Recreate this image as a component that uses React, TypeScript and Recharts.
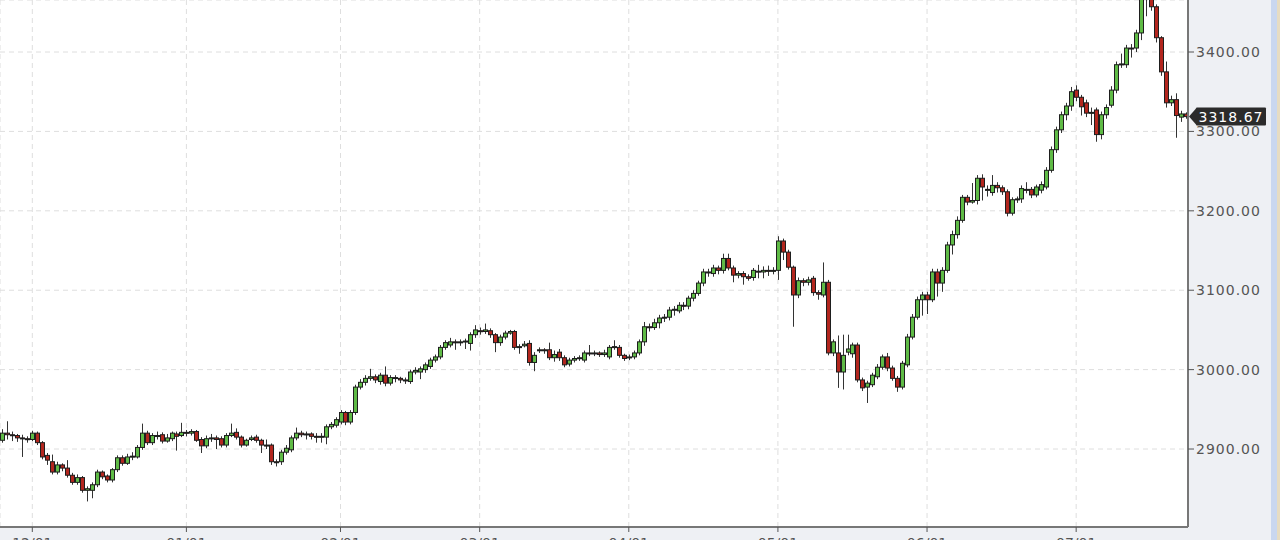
import React from 'react';
import { ComposedChart, Bar, XAxis, YAxis, CartesianGrid, ReferenceLine } from 'recharts';

// daily candles
const opens = [
  2911, 2920, 2918, 2917, 2914, 2913, 2912, 2920, 2908, 2892, 2884, 2871, 2880, 2876, 2867, 2858, 2864, 2848, 2848, 2855,
  2871, 2866, 2861, 2874, 2889, 2882, 2890, 2890, 2902, 2920, 2908, 2917, 2918, 2910, 2913, 2919, 2917, 2921, 2920, 2922,
  2912, 2904, 2913, 2914, 2913, 2905, 2917, 2921, 2915, 2905, 2912, 2915, 2911, 2905, 2905, 2884, 2884, 2896, 2899, 2914,
  2920, 2918, 2919, 2916, 2915, 2915, 2928, 2930, 2934, 2946, 2934, 2946, 2978, 2984, 2989, 2991, 2985, 2993, 2983, 2990,
  2989, 2987, 2985, 2997, 2997, 3000, 3004, 3012, 3016, 3028, 3031, 3035, 3034, 3035, 3033, 3044, 3049, 3048, 3049, 3044,
  3034, 3041, 3046, 3048, 3028, 3030, 3033, 3009, 3024, 3025, 3025, 3015, 3022, 3015, 3007, 3012, 3014, 3012, 3021, 3020,
  3021, 3019, 3016, 3028, 3028, 3018, 3015, 3016, 3021, 3035, 3054, 3053, 3059, 3065, 3066, 3075, 3074, 3081, 3080, 3090,
  3096, 3109, 3123, 3121, 3128, 3125, 3140, 3128, 3119, 3121, 3117, 3116, 3124, 3123, 3125, 3124, 3125, 3162, 3148, 3129,
  3094, 3112, 3110, 3115, 3097, 3094, 3110, 3021, 3021, 2997, 3022, 3020, 3031, 2987, 2978, 2981, 2991, 3003, 3016, 3002,
  2989, 2978, 3006, 3041, 3066, 3088, 3094, 3088, 3123, 3109, 3125, 3157, 3170, 3188, 3217, 3211, 3213, 3241, 3226, 3223,
  3232, 3229, 3224, 3197, 3214, 3215, 3227, 3227, 3220, 3226, 3230, 3251, 3277, 3302, 3321, 3332, 3352, 3343, 3336, 3323,
  3327, 3296, 3321, 3333, 3352, 3384, 3384, 3405, 3405, 3424, 3468, 3470, 3457, 3418, 3375, 3336, 3340, 3318, 3322,
];
const highs = [
  2925, 2935, 2922, 2919, 2918, 2916, 2923, 2922, 2910, 2895, 2893, 2884, 2882, 2886, 2870, 2868, 2866, 2853, 2858, 2874,
  2873, 2868, 2876, 2892, 2892, 2894, 2896, 2905, 2932, 2923, 2920, 2922, 2921, 2919, 2922, 2922, 2933, 2924, 2925, 2924,
  2915, 2917, 2919, 2917, 2916, 2920, 2932, 2926, 2917, 2913, 2917, 2918, 2913, 2912, 2907, 2887, 2899, 2905, 2917, 2927,
  2923, 2922, 2921, 2920, 2920, 2931, 2934, 2940, 2949, 2948, 2949, 2981, 2988, 2993, 3001, 2994, 2996, 3004, 2993, 2993,
  2991, 2990, 3000, 3003, 3004, 3009, 3015, 3019, 3031, 3037, 3040, 3038, 3038, 3039, 3047, 3056, 3053, 3058, 3052, 3046,
  3044, 3049, 3050, 3050, 3032, 3036, 3037, 3022, 3028, 3027, 3034, 3024, 3026, 3018, 3015, 3017, 3018, 3024, 3031, 3024,
  3023, 3025, 3031, 3037, 3031, 3020, 3019, 3024, 3038, 3060, 3058, 3064, 3069, 3070, 3079, 3080, 3085, 3085, 3093, 3100,
  3112, 3127, 3127, 3132, 3131, 3146, 3146, 3131, 3124, 3124, 3120, 3128, 3132, 3130, 3131, 3129, 3168, 3165, 3151, 3131,
  3116, 3115, 3117, 3118, 3100, 3135, 3113, 3038, 3043, 3044, 3044, 3034, 3034, 2990, 2986, 2996, 3007, 3019, 3021, 3005,
  2992, 3011, 3045, 3070, 3092, 3098, 3098, 3127, 3127, 3129, 3161, 3175, 3193, 3220, 3220, 3235, 3245, 3246, 3232, 3245,
  3236, 3232, 3227, 3217, 3218, 3232, 3236, 3230, 3233, 3237, 3255, 3281, 3306, 3325, 3336, 3356, 3358, 3346, 3340, 3330,
  3330, 3325, 3334, 3357, 3388, 3398, 3409, 3410, 3428, 3478, 3485, 3475, 3460, 3420, 3388, 3345, 3348, 3326, 3324,
];
const lows = [
  2908, 2912, 2910, 2909, 2890, 2908, 2910, 2905, 2887, 2880, 2868, 2868, 2872, 2864, 2855, 2855, 2845, 2834, 2838, 2852,
  2862, 2858, 2858, 2871, 2879, 2880, 2886, 2888, 2899, 2905, 2905, 2912, 2907, 2908, 2910, 2898, 2915, 2916, 2917, 2909,
  2895, 2901, 2909, 2900, 2902, 2902, 2915, 2912, 2902, 2903, 2910, 2908, 2895, 2900, 2880, 2878, 2880, 2893, 2896, 2911,
  2915, 2912, 2912, 2908, 2908, 2906, 2925, 2927, 2931, 2930, 2931, 2943, 2975, 2980, 2986, 2983, 2981, 2979, 2980, 2984,
  2983, 2982, 2982, 2994, 2988, 2996, 3001, 3009, 3013, 3025, 3028, 3025, 3030, 3026, 3024, 3040, 3044, 3045, 3040, 3022,
  3030, 3038, 3044, 3025, 3020, 3028, 3005, 2998, 3021, 3020, 3012, 3010, 3011, 3003, 3004, 3009, 3011, 3009, 3017, 3017,
  3016, 3016, 3013, 3025, 3015, 3011, 3012, 3013, 3018, 3030, 3048, 3050, 3052, 3060, 3062, 3068, 3071, 3075, 3076, 3086,
  3093, 3105, 3117, 3117, 3120, 3121, 3125, 3110, 3115, 3107, 3112, 3112, 3115, 3115, 3118, 3120, 3113, 3138, 3126, 3054,
  3090, 3105, 3106, 3093, 3088, 3091, 3018, 3017, 2977, 2975, 3018, 3015, 2984, 2973, 2958, 2978, 2988, 3000, 2998, 2986,
  2972, 2975, 3003, 3038, 3063, 3068, 3070, 3085, 3092, 3098, 3122, 3145, 3165, 3185, 3207, 3209, 3208, 3213, 3218, 3219,
  3223, 3220, 3193, 3194, 3210, 3210, 3222, 3216, 3217, 3222, 3227, 3248, 3273, 3298, 3314, 3326, 3338, 3320, 3318, 3308,
  3287, 3290, 3316, 3330, 3348, 3380, 3380, 3393, 3400, 3415, 3445, 3452, 3412, 3370, 3330, 3332, 3292, 3312, 3316,
];
const closes = [
  2920, 2918, 2917, 2914, 2913, 2912, 2920, 2908, 2890, 2886, 2871, 2880, 2876, 2867, 2858, 2864, 2848, 2850, 2855, 2871,
  2865, 2861, 2874, 2889, 2882, 2890, 2891, 2902, 2920, 2908, 2917, 2916, 2910, 2914, 2920, 2916, 2921, 2920, 2922, 2911,
  2904, 2913, 2914, 2912, 2905, 2917, 2920, 2915, 2905, 2911, 2914, 2911, 2905, 2904, 2884, 2883, 2896, 2901, 2914, 2920,
  2918, 2919, 2916, 2915, 2916, 2928, 2931, 2937, 2946, 2934, 2946, 2978, 2984, 2989, 2991, 2987, 2993, 2983, 2990, 2989,
  2987, 2986, 2997, 2999, 3001, 3006, 3012, 3016, 3028, 3034, 3035, 3034, 3035, 3036, 3044, 3050, 3048, 3050, 3044, 3034,
  3041, 3046, 3048, 3028, 3029, 3032, 3009, 3018, 3025, 3024, 3015, 3019, 3015, 3006, 3012, 3014, 3015, 3021, 3020, 3021,
  3019, 3021, 3028, 3029, 3018, 3014, 3016, 3021, 3035, 3054, 3053, 3059, 3065, 3066, 3075, 3076, 3081, 3080, 3090, 3096,
  3109, 3123, 3122, 3128, 3125, 3140, 3128, 3119, 3121, 3117, 3115, 3125, 3123, 3125, 3124, 3125, 3162, 3148, 3129, 3094,
  3112, 3110, 3113, 3097, 3095, 3110, 3021, 3035, 2997, 3018, 3026, 3031, 2987, 2977, 2983, 2993, 3003, 3016, 3002, 2989,
  2978, 3008, 3041, 3066, 3088, 3094, 3088, 3123, 3109, 3125, 3157, 3170, 3188, 3217, 3211, 3213, 3241, 3230, 3227, 3232,
  3229, 3224, 3197, 3214, 3215, 3228, 3226, 3220, 3230, 3233, 3251, 3277, 3302, 3321, 3332, 3350, 3343, 3331, 3323, 3324,
  3296, 3321, 3330, 3352, 3384, 3385, 3405, 3404, 3424, 3468, 3470, 3457, 3418, 3375, 3336, 3340, 3320, 3322, 3318.67,
];

const tickIdx = [6, 37, 68, 96, 126, 156, 186, 216];
const tickLabels = ['12/01', '01/01', '02/01', '03/01', '04/01', '05/01', '06/01', '07/01'];
const priceTicks = [2900, 3000, 3100, 3200, 3300, 3400];

const LAST = closes[closes.length - 1];

const data = closes.map((c, i) => ({
  idx: i,
  open: opens[i],
  high: highs[i],
  low: lows[i],
  close: c,
}));

const Candle = (props: any) => {
  const { x, y, width, height, payload } = props;
  if (x == null || y == null) return null;
  const { open, close, high, low } = payload;
  const top = Math.min(y, y + height);
  const h = Math.abs(height);
  const ratio = high === low ? 0 : h / (high - low);
  const bodyTop = top + (high - Math.max(open, close)) * ratio;
  const bodyBot = top + (high - Math.min(open, close)) * ratio;
  const cx = Math.round(x + width / 2);
  const up = close >= open;
  return (
    <g>
      <line x1={cx + 0.5} x2={cx + 0.5} y1={top} y2={top + h} stroke="#333" strokeWidth={1} />
      <rect
        x={cx - 1.5}
        y={bodyTop}
        width={4}
        height={Math.max(1, bodyBot - bodyTop)}
        fill={up ? '#5fbb46' : '#b3261e'}
        stroke="#1e1e1e"
        strokeWidth={1}
      />
    </g>
  );
};

const PriceTag = (props: any) => {
  const vb = props.viewBox || {};
  const y = vb.y;
  const left = vb.x + vb.width;
  return (
    <g>
      <path d={`M${left + 1},${y} L${left + 8},${y - 8} L${left + 8},${y + 8} Z`} fill="#2b2b2b" />
      <rect x={left + 8} y={y - 9} width={70} height={18} rx={1} fill="#2b2b2b" />
      <text
        x={left + 43}
        y={y}
        dy="0.36em"
        textAnchor="middle"
        fill="#fff"
        fontSize={14}
        fontFamily="DejaVu Sans"
        letterSpacing={1}
      >
        {LAST.toFixed(2)}
      </text>
    </g>
  );
};

export default function App() {
  return (
    <div style={{ position: 'absolute', left: 0, top: 0, width: 1280, height: 540, background: '#eef0f4', overflow: 'hidden' }}>
      <ComposedChart width={1280} height={540} data={data} margin={{ top: 0, right: 0, bottom: 0, left: 0 }}>
        <CartesianGrid fill="#fff" stroke="#dedede" strokeDasharray="5 4" />
        <XAxis
          dataKey="idx"
          type="category"
          ticks={tickIdx}
          tickFormatter={(v: number) => tickLabels[tickIdx.indexOf(v)] ?? ''}
          height={13}
          interval={0}
          axisLine={{ stroke: '#777', strokeWidth: 2 }}
          tickLine={{ stroke: '#555' }}
          tickSize={5}
          tickMargin={6}
          tick={{ fill: '#555', fontSize: 14, fontFamily: 'DejaVu Sans' }}
        />
        <YAxis
          orientation="right"
          width={92}
          domain={[2801.8, 3465.5]}
          allowDataOverflow
          ticks={priceTicks}
          tickFormatter={(v: number) => v.toFixed(2)}
          axisLine={{ stroke: '#777', strokeWidth: 2 }}
          tickLine={{ stroke: '#555' }}
          tickSize={6}
          tickMargin={2}
          tick={{ fill: '#555', fontSize: 14, fontFamily: 'DejaVu Sans', letterSpacing: 1 }}
        />
        <Bar dataKey={(d: any) => [d.low, d.high]} shape={<Candle />} isAnimationActive={false} />
        <ReferenceLine y={LAST} stroke="none" label={<PriceTag />} />
      </ComposedChart>
      <div style={{ position: 'absolute', left: 1271, top: 0, width: 6, height: 540, background: '#c9d7ef' }} />
      <div style={{ position: 'absolute', left: 1277, top: 0, width: 3, height: 540, background: '#e6dcc2' }} />
    </div>
  );
}
